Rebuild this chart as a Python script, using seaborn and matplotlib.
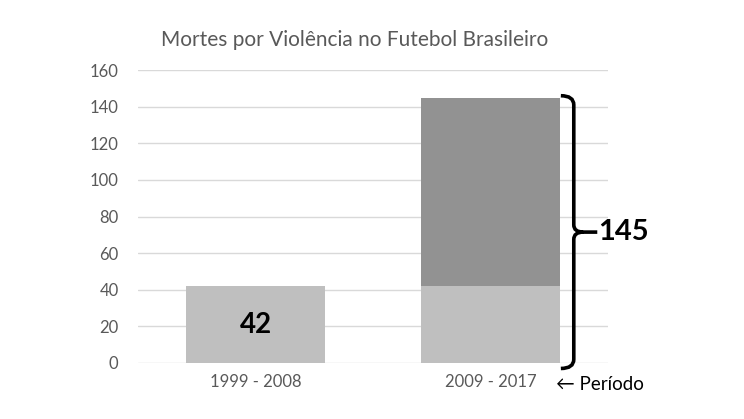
import numpy as np
import pandas as pd
import matplotlib
matplotlib.use("Agg")
import matplotlib.pyplot as plt
from matplotlib.path import Path
from matplotlib.patches import PathPatch
import seaborn as sns

# dados
periodos = ["1999 - 2008", "2009 - 2017"]
base = [42, 42]
extra = [0, 103]
totais = [b + e for b, e in zip(base, extra)]
yticks = list(range(0, 161, 20))

sns.set_style("white")
plt.rcParams['font.family'] = ['Lato', 'DejaVu Sans']

fig = plt.figure(figsize=(7.44, 4.19), dpi=100)
ax = fig.add_axes([0.1855, 0.1337, 0.6315, 0.699])

df = pd.DataFrame({"periodo": periodos, "total": totais, "base": base})
sns.barplot(data=df, x="periodo", y="total", color="#929292", width=0.59,
            saturation=1, linewidth=0, ax=ax, zorder=2)
sns.barplot(data=df, x="periodo", y="base", color="#bfbfbf", width=0.59,
            saturation=1, linewidth=0, ax=ax, zorder=3)

ax.set_xlim(-0.5, 1.5)
ax.set_ylim(0, 160)
ax.set_yticks(yticks)
ax.grid(axis="y", color="#d9d9d9", lw=1, zorder=0)
ax.set_axisbelow(True)
for s in ax.spines.values():
    s.set_visible(False)
ax.tick_params(axis="both", length=0, colors="#595959", labelsize=12)
ax.tick_params(axis="y", pad=14)
ax.tick_params(axis="x", pad=8)
ax.set_xlabel("")
ax.set_ylabel("")

# rótulo da primeira barra
ax.text(0, base[0] / 2, str(base[0]), ha="center", va="center",
        fontsize=20, fontweight="bold", color="black", zorder=5)

# chave à direita da segunda barra
top, bot = totais[1] + 1, -3
mid = (totais[1]) / 2 - 1
x0, x1, x2 = 1.30, 1.355, 1.455
verts = [
    (x0, top), (x1, top), (x1, top - 5),
    (x1, mid + 4),
    (x1, mid), (x1 + 0.04, mid),
    (x2, mid),
    (x1 + 0.04, mid), (x1, mid), (x1, mid - 4),
    (x1, bot + 5),
    (x1, bot), (x0, bot),
]
codes = [
    Path.MOVETO, Path.CURVE3, Path.CURVE3,
    Path.LINETO,
    Path.CURVE3, Path.CURVE3,
    Path.LINETO,
    Path.MOVETO, Path.CURVE3, Path.CURVE3,
    Path.LINETO,
    Path.CURVE3, Path.CURVE3,
]
ax.add_patch(PathPatch(Path(verts, codes), fill=False, lw=2.6,
                       edgecolor="black", clip_on=False, zorder=6))
ax.text(x2 + 0.005, mid, str(totais[1]), ha="left", va="center",
        fontsize=21, fontweight="bold", color="black", clip_on=False)

ax.text(1.28, -12, "\u2190 Período", ha="left", va="center",
        fontsize=13.5, color="black", clip_on=False,
        family=['Lato', 'DejaVu Sans'])

fig.text(0.476, 0.905, "Mortes por Violência no Futebol Brasileiro",
         ha="center", va="center", fontsize=15, color="#595959")

fig.savefig("out.png", dpi=100)
